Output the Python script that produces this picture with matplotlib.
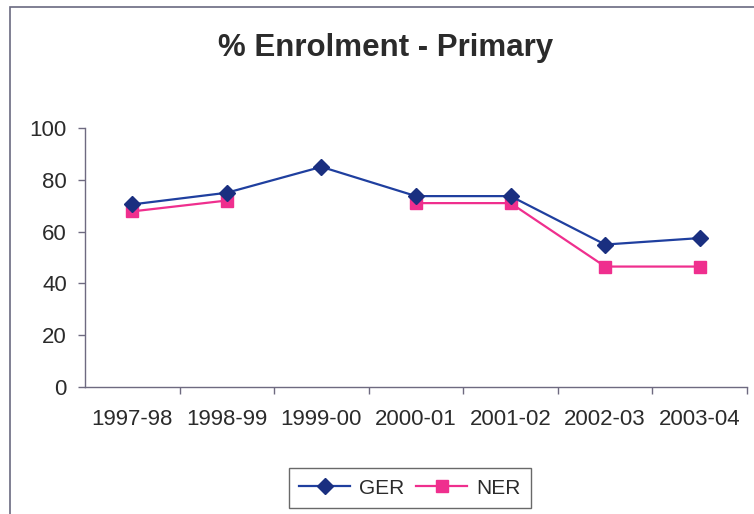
import numpy as np
import matplotlib
matplotlib.use("Agg")
import matplotlib.pyplot as plt
from matplotlib.patches import Rectangle

plt.rcParams["font.family"] = ["Liberation Sans", "DejaVu Sans"]

years = ["1997-98", "1998-99", "1999-00", "2000-01", "2001-02", "2002-03", "2003-04"]
ger = [70.5, 75, 85, 73.7, 73.7, 55, 57.5]
ner = [67.8, 72, np.nan, 71, 71, 46.5, 46.5]

ger_color = "#1f3f9f"
ger_marker = "#1a2f80"
ner_color = "#ef2f8e"
axis_color = "#6e6a80"
text_color = "#2b2b2b"

fig = plt.figure(figsize=(7.54, 5.14), dpi=100)
ax = fig.add_axes([85 / 754, 1 - 387 / 514, 662 / 754, 259 / 514])

x = np.arange(len(years))
ax.plot(x, ger, color=ger_color, lw=1.6, marker="D", ms=8.5,
        mfc=ger_marker, mec=ger_marker, label="GER", zorder=3)
ax.plot(x, ner, color=ner_color, lw=1.6, marker="s", ms=8,
        mfc=ner_color, mec=ner_color, label="NER", zorder=2)

ax.set_xlim(-0.5, len(years) - 0.5)
ax.set_ylim(0, 100)
ax.set_yticks(range(0, 101, 20))

# category labels at centres, tick marks at the boundaries
ax.set_xticks(np.arange(0.5, len(years), 1.0))
ax.set_xticklabels([])
ax.set_xticks(x, minor=True)
ax.set_xticklabels(years, minor=True)
ax.tick_params(axis="x", which="major", direction="out", length=5,
               color=axis_color, width=1)
ax.tick_params(axis="x", which="minor", length=0, pad=16,
               labelsize=16, labelcolor=text_color)
ax.tick_params(axis="y", direction="out", length=5, color=axis_color,
               width=1, pad=8, labelsize=16, labelcolor=text_color)

for side in ["top", "right"]:
    ax.spines[side].set_visible(False)
for side in ["left", "bottom"]:
    ax.spines[side].set_color(axis_color)
    ax.spines[side].set_linewidth(1)

fig.text(386 / 754, 1 - 48 / 514, "% Enrolment - Primary", ha="center",
         va="center", fontsize=22.5, fontweight="bold", color=text_color)

leg = fig.legend(loc="center", bbox_to_anchor=(410 / 754, 1 - 488 / 514),
                 ncol=2, frameon=True, fancybox=False, fontsize=15,
                 handlelength=2.45, handletextpad=0.45, columnspacing=0.55,
                 borderpad=0.5, labelcolor=text_color)
leg.get_frame().set_edgecolor("#444444")
leg.get_frame().set_linewidth(1)

# outer chart border (only left and top edges fall inside the image)
fig.patches.append(Rectangle((10 / 754, -0.05), 1.1, 1.05 - 7 / 514,
                             transform=fig.transFigure, fill=False,
                             edgecolor="#6a6a80", lw=1.2))

fig.savefig("out.png", dpi=100)
